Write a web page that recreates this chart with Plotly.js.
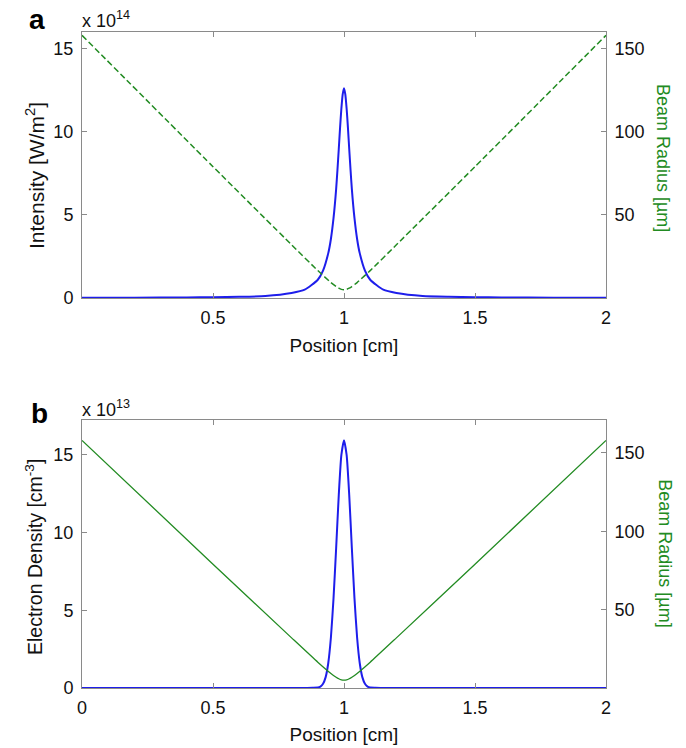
<!DOCTYPE html>
<html>
<head>
<meta charset="utf-8">
<script src="https://cdn.plot.ly/plotly-3.0.1.min.js"></script>
<style>html,body{margin:0;padding:0;background:#fff;}#chart{width:686px;height:748px;}</style>
</head>
<body>
<div id="chart"></div>
<script>
// Panel a: intensity (x 10^14 W/m^2) vs position (cm)
const posIntensity = [0, 0.2, 0.4, 0.5, 0.6, 0.7, 0.8, 0.85, 0.9, 0.92, 0.94, 0.95, 0.96, 0.97, 0.975, 0.98, 0.985, 0.99, 0.995, 1.0,
  1.005, 1.01, 1.015, 1.02, 1.025, 1.03, 1.04, 1.05, 1.06, 1.08, 1.1, 1.15, 1.2, 1.3, 1.4, 1.5, 1.6, 1.8, 2.0];
const intensity = [0.01, 0.02, 0.03, 0.05, 0.07, 0.12, 0.30, 0.50, 1.10, 1.65, 2.70, 3.55, 4.80, 6.55, 7.70, 8.95, 10.25, 11.40, 12.25, 12.62,
  12.25, 11.40, 10.25, 8.95, 7.70, 6.55, 4.80, 3.55, 2.70, 1.65, 1.10, 0.50, 0.30, 0.12, 0.07, 0.05, 0.03, 0.02, 0.01];

// Beam radius (um) vs position (cm), shared by both panels
const posRadius = [0, 0.5, 0.8, 0.9, 0.95, 0.97, 0.98, 0.99, 1.0, 1.01, 1.02, 1.03, 1.05, 1.1, 1.2, 1.5, 2.0];
const radius = [158, 79, 32, 16.5, 9.3, 6.9, 5.9, 5.2, 5.0, 5.2, 5.9, 6.9, 9.3, 16.5, 32, 79, 158];

// Panel b: electron density (x 10^13 cm^-3) vs position (cm)
const posDensity = [0, 0.5, 0.8, 0.86, 0.88, 0.9, 0.91, 0.92, 0.93, 0.94, 0.95, 0.96, 0.97, 0.98, 0.99, 1.0,
  1.01, 1.02, 1.03, 1.04, 1.05, 1.06, 1.07, 1.08, 1.09, 1.1, 1.12, 1.14, 1.2, 1.5, 2.0];
const density = [0, 0, 0, 0, 0.01, 0.03, 0.09, 0.27, 0.70, 1.61, 3.25, 5.77, 9.00, 12.40, 15.00, 15.95,
  15.00, 12.40, 9.00, 5.77, 3.25, 1.61, 0.70, 0.27, 0.09, 0.03, 0.01, 0, 0, 0, 0];

const ticksA = [0.5, 1, 1.5, 2];
const ticksB = [0, 0.5, 1, 1.5, 2];
const leftTicks = [0, 5, 10, 15];
const rightTicks = [50, 100, 150];

const BLUE = 'rgb(30,30,235)';
const GREEN = 'rgb(34,139,34)';
const FONT = 'Liberation Sans, Arial, sans-serif';
const AXC = '#8a8a8a';
const FS = 18;

const traces = [
  {x: posIntensity, y: intensity, xaxis: 'x', yaxis: 'y', mode: 'lines', line: {color: BLUE, width: 2, shape: 'spline', smoothing: 0.6}, hoverinfo: 'skip'},
  {x: posRadius, y: radius, xaxis: 'x', yaxis: 'y2', mode: 'lines', line: {color: GREEN, width: 1.5, dash: '6px,3px', shape: 'spline', smoothing: 0.5}, hoverinfo: 'skip'},
  {x: posDensity, y: density, xaxis: 'x2', yaxis: 'y3', mode: 'lines', line: {color: BLUE, width: 2, shape: 'spline', smoothing: 0.6}, hoverinfo: 'skip'},
  {x: posRadius, y: radius, xaxis: 'x2', yaxis: 'y4', mode: 'lines', line: {color: GREEN, width: 1.3, shape: 'spline', smoothing: 0.5}, hoverinfo: 'skip'}
];

const xBase = {range: [0, 2], showline: true, linecolor: AXC, linewidth: 1, mirror: 'ticks', ticks: 'inside', ticklen: 5, tickcolor: AXC,
  showgrid: false, zeroline: false, tickfont: {family: FONT, size: FS, color: '#111'}, automargin: false, ticklabelstandoff: 3};
const yBase = {showline: true, linecolor: AXC, linewidth: 1, ticks: 'inside', ticklen: 5, tickcolor: AXC,
  showgrid: false, zeroline: false, tickfont: {family: FONT, size: FS, color: '#111'}, automargin: false, ticklabelstandoff: 4};

const layout = {
  width: 686, height: 748,
  margin: {l: 82, r: 80, t: 32, b: 60},
  paper_bgcolor: '#fff', plot_bgcolor: '#fff',
  showlegend: false,
  font: {family: FONT, size: FS, color: '#111'},
  xaxis: Object.assign({}, xBase, {anchor: 'y', domain: [0, 1], tickvals: ticksA, ticktext: ticksA.map(String),
    title: {text: 'Position [cm]', font: {family: FONT, size: 19, color: '#111'}, standoff: 12}}),
  yaxis: Object.assign({}, yBase, {domain: [0.5945, 1], range: [0, 16], tickvals: leftTicks, anchor: 'x'}),
  yaxis2: Object.assign({}, yBase, {overlaying: 'y', side: 'right', range: [0, 160], tickvals: rightTicks, anchor: 'x'}),
  xaxis2: Object.assign({}, xBase, {anchor: 'y3', domain: [0, 1], tickvals: ticksB, ticktext: ticksB.map(String),
    title: {text: 'Position [cm]', font: {family: FONT, size: 19, color: '#111'}, standoff: 11}}),
  yaxis3: Object.assign({}, yBase, {domain: [0, 0.4085], range: [0, 17.25], tickvals: leftTicks, anchor: 'x2'}),
  yaxis4: Object.assign({}, yBase, {overlaying: 'y3', side: 'right', range: [0, 171], tickvals: rightTicks, anchor: 'x2'}),
  annotations: [
    {text: '<b>a</b>', xref: 'paper', yref: 'paper', x: -0.086, y: 1.019, xanchor: 'center', yanchor: 'middle', showarrow: false, font: {family: FONT, size: 28, color: '#000'}},
    {text: '<b>b</b>', xref: 'paper', yref: 'paper', x: -0.082, y: 0.419, xanchor: 'center', yanchor: 'middle', showarrow: false, font: {family: FONT, size: 28, color: '#000'}},
    {text: 'x 10<sup>14</sup>', xref: 'paper', yref: 'paper', x: -0.004, y: 0.998, xanchor: 'left', yanchor: 'bottom', showarrow: false, font: {family: FONT, size: FS, color: '#111'}},
    {text: 'x 10<sup>13</sup>', xref: 'paper', yref: 'paper', x: -0.004, y: 0.406, xanchor: 'left', yanchor: 'bottom', showarrow: false, font: {family: FONT, size: FS, color: '#111'}},
    {text: 'Intensity [W/m<sup>2</sup>]', xref: 'paper', yref: 'paper', x: -0.0897, y: 0.782, xanchor: 'center', yanchor: 'middle', textangle: -90, showarrow: false, font: {family: FONT, size: 21, color: '#111'}},
    {text: 'Electron Density [cm<sup>-3</sup>]', xref: 'paper', yref: 'paper', x: -0.0916, y: 0.1997, xanchor: 'center', yanchor: 'middle', textangle: -90, showarrow: false, font: {family: FONT, size: 19.5, color: '#111'}},
    {text: 'Beam Radius [µm]', xref: 'paper', yref: 'paper', x: 1.1088, y: 0.808, xanchor: 'center', yanchor: 'middle', textangle: 90, showarrow: false, font: {family: FONT, size: FS, color: GREEN}},
    {text: 'Beam Radius [µm]', xref: 'paper', yref: 'paper', x: 1.112, y: 0.2058, xanchor: 'center', yanchor: 'middle', textangle: 90, showarrow: false, font: {family: FONT, size: FS, color: GREEN}}
  ]
};

Plotly.newPlot('chart', traces, layout, {staticPlot: true, displayModeBar: false});
</script>
</body>
</html>
